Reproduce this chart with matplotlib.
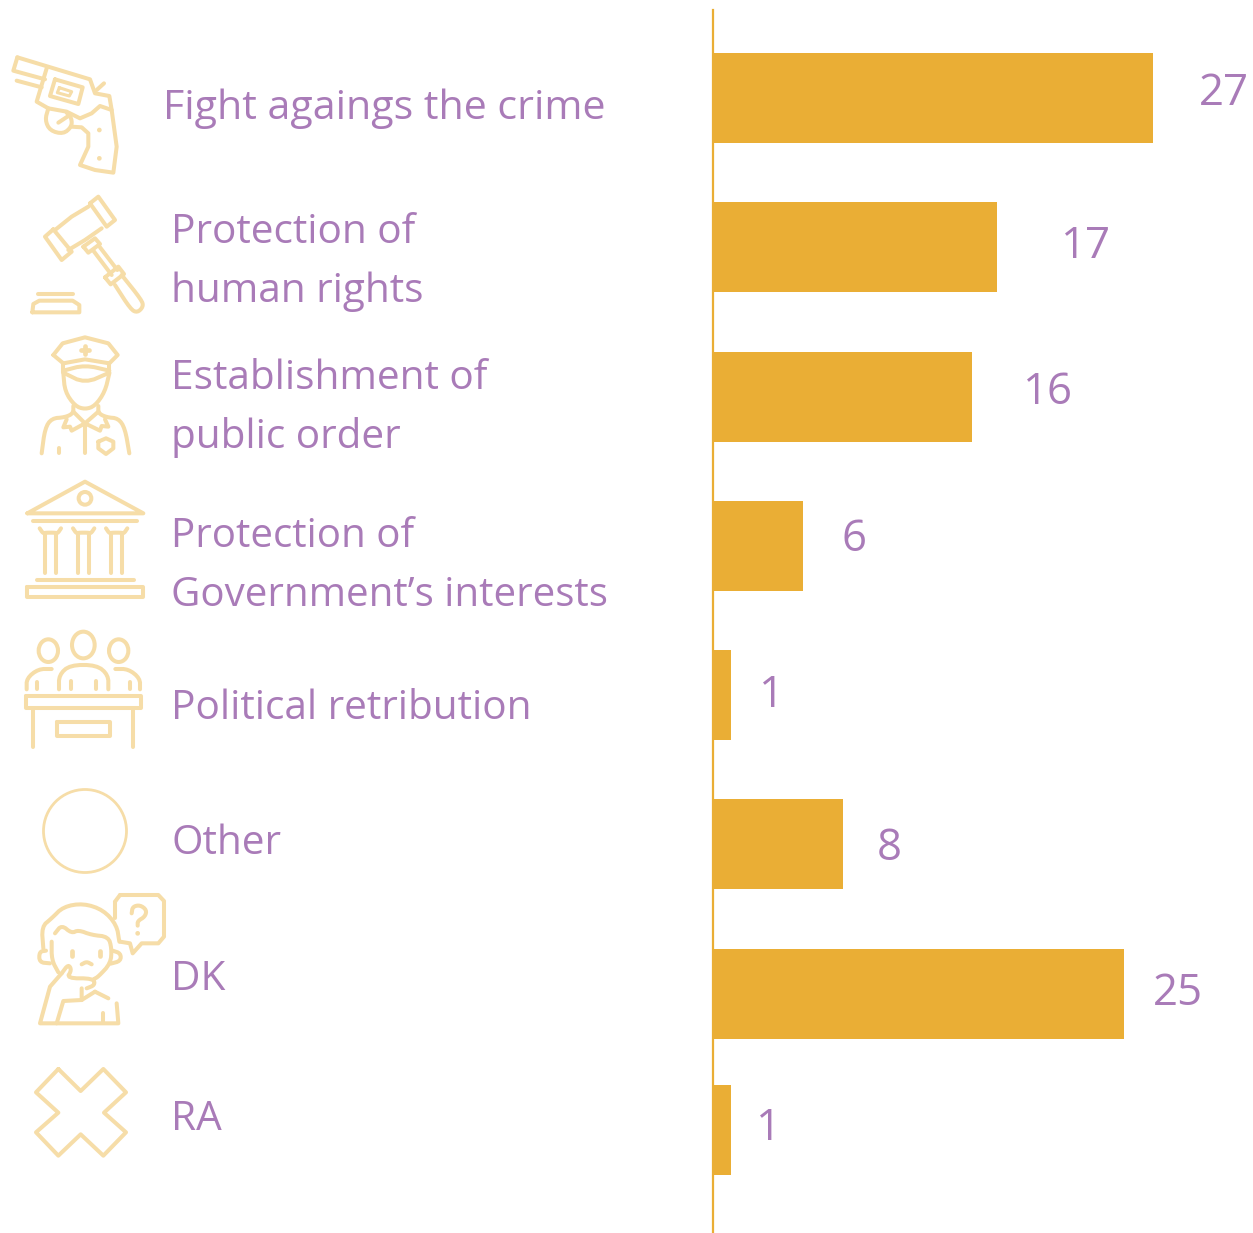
import matplotlib.pyplot as plt
from matplotlib.patches import Ellipse
import numpy as np

# data
categories = ['Fight agaings the crime', 'Protection of\nhuman rights', 'Establishment of\npublic order',
              'Protection of\nGovernment’s interests', 'Political retribution', 'Other', 'DK', 'RA']
value_labels = ['27', '17', '16', '6', '1', '8', '25', '1']
bar_lengths = [27.0, 17.4, 15.9, 5.5, 1.1, 8.0, 25.2, 1.1]

# layout, in pixels of the 1253x1233 picture
W, H = 1253, 1233
bar_centers = [98, 247, 397, 546, 695, 844, 994, 1130]
bar_height = 90
label_x = [163, 171, 171, 171, 171, 171, 171, 171]
label_sizes = [29.6, 29.2, 29.2, 29.0, 29.2, 29.2, 29.2, 29.2]
label_baselines = [119, 243, 389, 547, 719, 854, 990, 1130]
line_gap = 59
value_x = [1199, 1061, 1023, 841, 759, 877, 1153, 756]
value_baselines = [105, 258, 404, 551, 707, 860, 1005, 1140]

BAR = '#EAAE35'
TEXT = '#A97BB8'
ICON = '#F6DDA8'
FONT = 'Open Sans'
LW = 2.9

fig = plt.figure(figsize=(W / 100, H / 100), dpi=100)

ax = fig.add_axes([713 / W, 0, (W - 713) / W, 1])
ax.barh(bar_centers, bar_lengths, height=bar_height, left=0, color=BAR)
ax.set_xlim(0, (W - 713) / 16.3)
ax.set_ylim(H, 0)
ax.set_xticks([])
ax.set_yticks([])
for s in ['top', 'right', 'bottom']:
    ax.spines[s].set_visible(False)
ax.spines['left'].set_bounds(10, H)
ax.spines['left'].set_color(BAR)
ax.spines['left'].set_linewidth(1.6)
ax.patch.set_alpha(0)

# overlay in picture pixels for text and icons
ov = fig.add_axes([0, 0, 1, 1])
ov.set_xlim(0, W)
ov.set_ylim(H, 0)
ov.axis('off')
ov.patch.set_alpha(0)

for cat, x, y, fs in zip(categories, label_x, label_baselines, label_sizes):
    for i, part in enumerate(cat.split('\n')):
        ov.text(x, y + i * line_gap, part, color=TEXT, fontsize=fs, family=FONT, va='baseline', ha='left')

for lab, x, y in zip(value_labels, value_x, value_baselines):
    ov.text(x, y, lab, color=TEXT, fontsize=31.5, family=FONT, va='baseline', ha='left')


def chaikin(pts, closed=False, n=2):
    p = np.array(pts, dtype=float)
    for _ in range(n):
        if closed:
            q = np.roll(p, -1, axis=0)
            p = np.column_stack([0.75 * p + 0.25 * q, 0.25 * p + 0.75 * q]).reshape(-1, 2)
        else:
            a, b = p[:-1], p[1:]
            mid = np.column_stack([0.75 * a + 0.25 * b, 0.25 * a + 0.75 * b]).reshape(-1, 2)
            p = np.vstack([p[0], mid, p[-1]])
    return p


class Icon:
    # points are given in the 3x zoom coordinates of each crop
    def __init__(self, ox, oy):
        self.ox, self.oy = ox, oy

    def line(self, pts, closed=False, smooth=False, lw=LW):
        p = chaikin(pts, closed) if smooth else np.array(pts, dtype=float)
        if closed:
            p = np.vstack([p, p[0]])
        ov.plot(self.ox + p[:, 0] / 3, self.oy + p[:, 1] / 3, color=ICON, lw=lw,
                solid_capstyle='round', solid_joinstyle='round')

    def ell(self, cx, cy, w, h, lw=LW):
        ov.add_patch(Ellipse((self.ox + cx / 3, self.oy + cy / 3), w / 3, h / 3, fill=False, ec=ICON, lw=lw))

    def dot(self, cx, cy, r=7):
        ov.add_patch(Ellipse((self.ox + cx / 3, self.oy + cy / 3), r * 2 / 3, r * 2 / 3, color=ICON, lw=0))


# revolver
g = Icon(0, 40)
g.line([(52, 52), (270, 118), (285, 160), (328, 168), (335, 210), (350, 320), (340, 398), (285, 390), (240, 375),
        (265, 320), (265, 280), (245, 262), (215, 260)])
g.line([(52, 52), (40, 92), (135, 118)])
g.line([(50, 122), (125, 142)])
g.line([(140, 85), (110, 185), (145, 205), (200, 215), (240, 235), (275, 220), (300, 198), (335, 210)])
g.line([(165, 118), (248, 142), (235, 192), (150, 168)], closed=True)
g.line([(178, 143), (215, 155), (208, 168), (172, 158)], closed=True, lw=2.2)
g.line([(145, 205), (135, 240), (150, 272), (190, 282), (215, 260), (215, 235), (200, 218)], smooth=True)
g.line([(175, 248), (205, 228)])
g.line([(290, 150), (312, 130)])
g.dot(298, 270)
g.dot(298, 355)

# gavel
g.line([(165, 570), (215, 530), (265, 500)])
g.line([(205, 630), (255, 600), (305, 565)])
g.line([(160, 568), (135, 590), (185, 660), (215, 635)], closed=True)
g.line([(270, 490), (295, 470), (345, 540), (320, 560)], closed=True)
g.line([(250, 620), (285, 595), (300, 612), (265, 638)], closed=True)
g.line([(280, 632), (335, 705)])
g.line([(300, 622), (352, 690)])
g.line([(315, 712), (355, 680), (372, 702), (332, 733)], closed=True)
g.line([(345, 735), (392, 808), (412, 818), (430, 800), (425, 780), (365, 705)], smooth=True)
g.line([(115, 762), (218, 762)])
g.line([(97, 817), (100, 792), (118, 782), (218, 782), (238, 795), (238, 817)], closed=True)

# police officer
o = Icon(10, 330)
o.line([(130, 75), (158, 40), (225, 22), (295, 40), (323, 75), (298, 100), (225, 88), (160, 100)], closed=True)
o.line([(160, 100), (160, 125)])
o.line([(298, 100), (298, 125)])
o.line([(160, 122), (225, 105), (298, 122)], smooth=True)
o.line([(160, 128), (225, 160), (298, 128)], smooth=True)
o.line([(160, 130), (165, 185), (195, 228), (225, 238), (255, 228), (285, 185), (298, 130)], smooth=True)
o.line([(190, 228), (190, 250), (165, 262), (125, 265), (105, 295), (95, 370)], smooth=True)
o.line([(265, 228), (265, 250), (290, 262), (325, 265), (345, 295), (358, 370)], smooth=True)
o.line([(190, 245), (225, 280), (265, 245)])
o.line([(170, 268), (160, 292), (180, 290), (185, 302), (225, 280), (270, 302), (275, 288), (295, 290), (285, 268)])
o.line([(225, 285), (225, 370)])
o.line([(148, 355), (148, 370)])
o.line([(265, 335), (288, 325), (310, 335), (310, 355), (288, 372), (265, 355)], closed=True)
o.line([(225, 47), (225, 72)], lw=3.4)
o.line([(213, 60), (238, 60)], lw=3.4)

# government building
o.line([(52, 550), (225, 455), (400, 550)], closed=True)
o.ell(225, 505, 38, 38)
o.line([(70, 573), (382, 573)])
for cx in [121, 221, 320]:
    o.line([(cx - 32, 595), (cx - 22, 610), (cx - 14, 608), (cx + 14, 608), (cx + 22, 610), (cx + 32, 595)], smooth=True)
    o.line([(cx - 16, 610), (cx - 16, 728)])
    o.line([(cx + 16, 610), (cx + 16, 728)])
o.line([(80, 750), (372, 750)])
o.line([(52, 770), (400, 770), (400, 800), (52, 800)], closed=True)

# jury table
j = Icon(10, 620)
j.ell(115, 92, 58, 68)
j.ell(220, 75, 68, 80)
j.ell(326, 92, 58, 68)
j.line([(125, 147), (85, 147), (50, 175), (50, 208)], smooth=True)
j.line([(80, 185), (80, 208)])
j.line([(147, 208), (147, 165), (180, 135), (260, 135), (295, 165), (295, 208)], smooth=True)
j.line([(182, 182), (182, 208)])
j.line([(258, 182), (258, 208)])
j.line([(316, 147), (355, 147), (390, 175), (390, 208)], smooth=True)
j.line([(360, 185), (360, 208)])
j.line([(47, 228), (393, 228), (393, 265), (47, 265)], closed=True)
j.line([(70, 265), (70, 382)])
j.line([(370, 265), (370, 382)])
j.line([(140, 305), (300, 305), (300, 348), (140, 348)], closed=True)

# other
ov.add_patch(Ellipse((85, 831), 83, 83, fill=False, ec=ICON, lw=2.0))

# person with question
d = Icon(20, 885)
d.line([(300, 30), (415, 30), (432, 48), (432, 155), (415, 175), (365, 175), (338, 205), (330, 175), (300, 170)])
d.line([(285, 50), (300, 30)])
d.line([(285, 50), (285, 100)])
d.line([(335, 85), (338, 65), (360, 60), (380, 75), (375, 95), (353, 108), (353, 122)], smooth=True)
d.dot(353, 145)
d.line([(70, 190), (65, 125), (95, 100), (130, 65), (190, 55), (250, 75), (290, 120), (298, 170)], smooth=True)
d.line([(105, 145), (125, 120), (155, 145), (175, 135), (215, 150), (265, 155), (275, 190), (272, 235), (235, 275), (222, 282)],
       smooth=True)
d.line([(95, 170), (95, 225), (115, 262)], smooth=True)
d.line([(78, 197), (58, 200), (58, 232), (90, 235)], smooth=True)
d.line([(278, 197), (302, 205), (302, 228), (272, 236)], smooth=True)
d.line([(155, 198), (155, 212)], lw=3.4)
d.line([(241, 198), (241, 212)], lw=3.4)
d.line([(185, 238), (200, 230), (215, 238)], smooth=True)
d.line([(125, 265), (145, 238), (155, 255), (140, 280), (220, 280), (225, 300), (200, 310)], smooth=True)
d.line([(125, 265), (90, 305), (60, 415), (295, 415), (290, 355)])
d.line([(185, 310), (185, 345), (130, 348), (110, 415)])
d.line([(225, 320), (265, 340)], smooth=True)
d.line([(185, 345), (225, 320)])
d.line([(250, 385), (250, 415)])

# RA cross
d.line([(115, 552), (182, 618), (250, 552), (318, 622), (252, 683), (318, 742), (250, 812), (182, 748), (115, 812),
        (48, 742), (115, 683), (48, 622)], closed=True)

fig.savefig('out.png', dpi=100)
